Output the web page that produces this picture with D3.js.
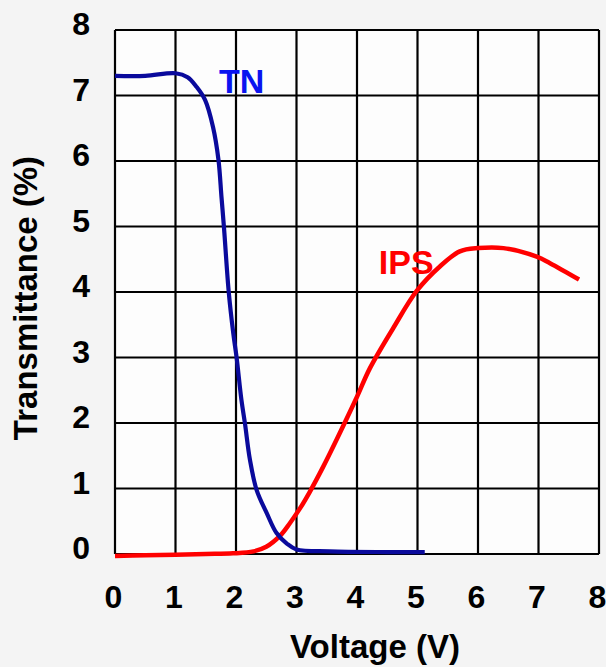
<!DOCTYPE html>
<html>
<head>
<meta charset="utf-8">
<script src="https://cdn.jsdelivr.net/npm/d3@7"></script>
<style>
  html, body { margin: 0; padding: 0; background: #f4f4f4; }
  svg { display: block; }
  text { font-family: "Liberation Sans", Arial, sans-serif; font-weight: bold; }
</style>
</head>
<body>
<svg id="chart" width="606" height="667"></svg>
<script>
// ---- Data ----
const xTicks = [0, 1, 2, 3, 4, 5, 6, 7, 8];
const yTicks = [0, 1, 2, 3, 4, 5, 6, 7, 8];

const tnVoltage = [0, 0.5, 1.0, 1.2, 1.35, 1.49, 1.62, 1.71, 1.76, 1.80, 1.88, 1.955, 2.01, 2.09, 2.15, 2.23, 2.34, 2.51, 2.67, 2.84, 3.0, 3.55, 4.5, 5.12];
const tnTrans   = [7.30, 7.30, 7.34, 7.28, 7.13, 6.93, 6.52, 6.02, 5.45, 5.0, 4.0, 3.37, 3.0, 2.35, 1.98, 1.44, 0.98, 0.62, 0.32, 0.16, 0.07, 0.04, 0.03, 0.03];

const ipsVoltage = [0, 0.5, 1.0, 1.5, 1.95, 2.29, 2.5, 2.73, 2.89, 3.06, 3.22, 3.44, 3.66, 4.0, 4.21, 4.6, 4.99, 5.37, 5.7, 6.0, 6.42, 6.97, 7.19, 7.67];
const ipsTrans   = [-0.03, -0.02, -0.01, 0.0, 0.01, 0.04, 0.11, 0.28, 0.47, 0.70, 0.95, 1.33, 1.74, 2.40, 2.83, 3.45, 4.02, 4.39, 4.62, 4.67, 4.67, 4.54, 4.44, 4.19];

const seriesLabels = ["TN", "IPS"];
const xTitle = "Voltage (V)";
const yTitle = "Transmittance (%)";

// ---- Layout ----
const svg = d3.select("#chart");
const x = d3.scaleLinear().domain([0, 8]).range([115, 599]);
const y = d3.scaleLinear().domain([0, 8]).range([554, 30]);

svg.append("rect").attr("width", 606).attr("height", 667).attr("fill", "#f4f4f4");
svg.append("rect")
  .attr("x", x(0)).attr("y", y(8))
  .attr("width", x(8) - x(0)).attr("height", y(0) - y(8))
  .attr("fill", "#fdfdfd");

// Grid
const grid = svg.append("g").attr("stroke", "#000").attr("stroke-width", 2.2);
grid.selectAll("line.v").data(xTicks).join("line")
  .attr("x1", d => x(d)).attr("x2", d => x(d))
  .attr("y1", y(8)).attr("y2", y(0));
grid.selectAll("line.h").data(yTicks).join("line")
  .attr("y1", d => y(d)).attr("y2", d => y(d))
  .attr("x1", x(0)).attr("x2", x(8));

// Axes (labels only, via d3 axes)
const xAxis = svg.append("g")
  .attr("transform", `translate(0, ${y(0)})`)
  .call(d3.axisBottom(x).tickValues(xTicks).tickSize(0).tickPadding(0).tickFormat(d3.format("d")));
xAxis.select(".domain").remove();
xAxis.selectAll("text")
  .attr("font-size", 32).attr("fill", "#000")
  .attr("y", 54).attr("dy", 0).attr("dx", -2)
  .style("font-family", '"Liberation Sans", Arial, sans-serif').style("font-weight", "bold");

const yAxis = svg.append("g")
  .attr("transform", `translate(${x(0)}, 0)`)
  .call(d3.axisLeft(y).tickValues(yTicks).tickSize(0).tickPadding(0).tickFormat(d3.format("d")));
yAxis.select(".domain").remove();
yAxis.selectAll("text")
  .attr("font-size", 32).attr("fill", "#000")
  .attr("x", -25).attr("dy", "0.31em").attr("y", -5)
  .style("font-family", '"Liberation Sans", Arial, sans-serif').style("font-weight", "bold");

// Lines
const line = d3.line().x(d => x(d[0])).y(d => y(d[1])).curve(d3.curveCatmullRom.alpha(0.5));
const tnData = tnVoltage.map((v, i) => [v, tnTrans[i]]);
const ipsData = ipsVoltage.map((v, i) => [v, ipsTrans[i]]);

svg.append("path").datum(ipsData)
  .attr("d", line).attr("fill", "none")
  .attr("stroke", "#ff0000").attr("stroke-width", 4.5).attr("stroke-linecap", "butt");
svg.append("path").datum(tnData)
  .attr("d", line).attr("fill", "none")
  .attr("stroke", "#0a0a9c").attr("stroke-width", 4.2).attr("stroke-linecap", "butt");

// Series labels
svg.append("text").text(seriesLabels[0])
  .attr("x", x(1.72)).attr("y", 93).attr("font-size", 34).attr("fill", "#0a14f0");
svg.append("text").text(seriesLabels[1])
  .attr("x", x(4.36)).attr("y", 274).attr("font-size", 34).attr("fill", "#ff0000");

// Axis titles
svg.append("text").text(xTitle)
  .attr("x", 375).attr("y", 658).attr("text-anchor", "middle")
  .attr("font-size", 33).attr("fill", "#000");
svg.append("text").text(yTitle)
  .attr("transform", "translate(37, 298) rotate(-90)")
  .attr("text-anchor", "middle")
  .attr("font-size", 33).attr("fill", "#000");
</script>
</body>
</html>
